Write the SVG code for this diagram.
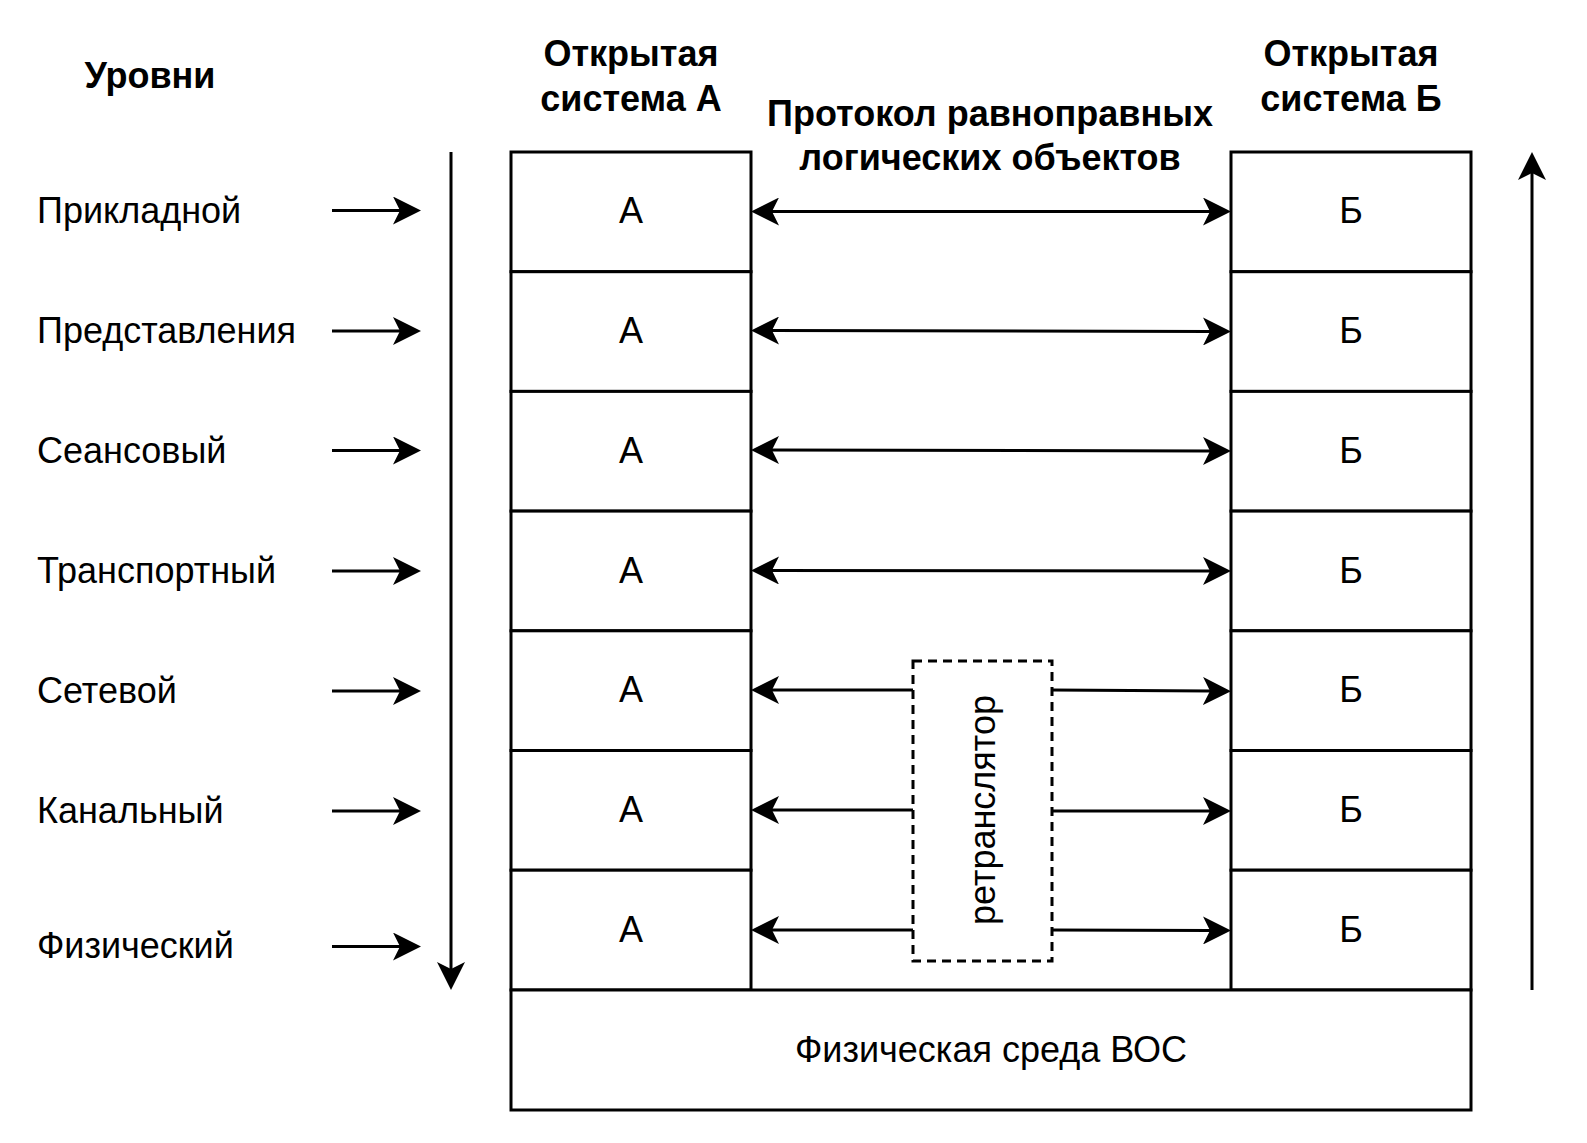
<svg xmlns="http://www.w3.org/2000/svg" width="1587" height="1143" viewBox="0 0 1587 1143">
<style>
.t{font-family:"Liberation Sans",Arial,sans-serif;font-size:36px;fill:#000}
.b{font-family:"Liberation Sans",Arial,sans-serif;font-size:36px;font-weight:bold;fill:#000}
.box{fill:#fff;stroke:#000;stroke-width:3}
.ln{fill:none;stroke:#000;stroke-width:3}
.dash{fill:#fff;stroke:#000;stroke-width:3;stroke-dasharray:9 6}
</style>
<defs>
<marker id="arr" viewBox="0 0 28 28" markerWidth="28" markerHeight="28" refX="7" refY="14" orient="auto-start-reverse" markerUnits="userSpaceOnUse">
<path d="M0,0 L28,14 L0,28 L7,14 Z" fill="#000"/>
</marker>
</defs>
<rect width="1587" height="1143" fill="#fff"/>

<g id="titles">
<text class="b" x="150" y="88" text-anchor="middle">Уровни</text>
<text class="b" x="631" y="66" text-anchor="middle">Открытая</text>
<text class="b" x="631" y="111" text-anchor="middle">система А</text>
<text class="b" x="1351" y="66" text-anchor="middle">Открытая</text>
<text class="b" x="1351" y="111" text-anchor="middle">система Б</text>
<text class="b" x="990" y="126" text-anchor="middle">Протокол равноправных</text>
<text class="b" x="990" y="170" text-anchor="middle">логических объектов</text>
</g>

<g id="levels">
<text class="t" x="37" y="223">Прикладной</text>
<text class="t" x="37" y="343">Представления</text>
<text class="t" x="37" y="463">Сеансовый</text>
<text class="t" x="37" y="583">Транспортный</text>
<text class="t" x="37" y="703">Сетевой</text>
<text class="t" x="37" y="823">Канальный</text>
<text class="t" x="37" y="958">Физический</text>
</g>

<g id="systemA">
<rect class="box" x="511" y="152" width="240" height="119.7"/>
<rect class="box" x="511" y="271.7" width="240" height="119.7"/>
<rect class="box" x="511" y="391.4" width="240" height="119.7"/>
<rect class="box" x="511" y="511.1" width="240" height="119.7"/>
<rect class="box" x="511" y="630.8" width="240" height="119.7"/>
<rect class="box" x="511" y="750.5" width="240" height="119.7"/>
<rect class="box" x="511" y="870.2" width="240" height="119.8"/>
<text class="t" x="631" y="223" text-anchor="middle">А</text>
<text class="t" x="631" y="343" text-anchor="middle">А</text>
<text class="t" x="631" y="463" text-anchor="middle">А</text>
<text class="t" x="631" y="583" text-anchor="middle">А</text>
<text class="t" x="631" y="702" text-anchor="middle">А</text>
<text class="t" x="631" y="822" text-anchor="middle">А</text>
<text class="t" x="631" y="942" text-anchor="middle">А</text>
</g>

<g id="systemB">
<rect class="box" x="1231" y="152" width="240" height="119.7"/>
<rect class="box" x="1231" y="271.7" width="240" height="119.7"/>
<rect class="box" x="1231" y="391.4" width="240" height="119.7"/>
<rect class="box" x="1231" y="511.1" width="240" height="119.7"/>
<rect class="box" x="1231" y="630.8" width="240" height="119.7"/>
<rect class="box" x="1231" y="750.5" width="240" height="119.7"/>
<rect class="box" x="1231" y="870.2" width="240" height="119.8"/>
<text class="t" x="1351" y="223" text-anchor="middle">Б</text>
<text class="t" x="1351" y="343" text-anchor="middle">Б</text>
<text class="t" x="1351" y="463" text-anchor="middle">Б</text>
<text class="t" x="1351" y="583" text-anchor="middle">Б</text>
<text class="t" x="1351" y="702" text-anchor="middle">Б</text>
<text class="t" x="1351" y="822" text-anchor="middle">Б</text>
<text class="t" x="1351" y="942" text-anchor="middle">Б</text>
</g>

<g id="medium">
<rect class="box" x="511" y="990" width="960" height="120"/>
<text class="t" x="991" y="1062" text-anchor="middle">Физическая среда ВОС</text>
</g>

<g id="relay">
<rect class="dash" x="913" y="661" width="139" height="300"/>
<text class="t" transform="translate(995,810) rotate(-90)" text-anchor="middle">ретранслятор</text>
</g>

<g id="connectors">
<line class="ln" x1="332" y1="210.5" x2="400" y2="210.5" marker-end="url(#arr)"/>
<line class="ln" x1="332" y1="331" x2="400" y2="331" marker-end="url(#arr)"/>
<line class="ln" x1="332" y1="450.5" x2="400" y2="450.5" marker-end="url(#arr)"/>
<line class="ln" x1="332" y1="571" x2="400" y2="571" marker-end="url(#arr)"/>
<line class="ln" x1="332" y1="691" x2="400" y2="691" marker-end="url(#arr)"/>
<line class="ln" x1="332" y1="811" x2="400" y2="811" marker-end="url(#arr)"/>
<line class="ln" x1="332" y1="946.5" x2="400" y2="946.5" marker-end="url(#arr)"/>
<line class="ln" x1="451" y1="152" x2="451" y2="969" marker-end="url(#arr)"/>
<line class="ln" x1="1532" y1="990" x2="1532" y2="173" marker-end="url(#arr)"/>
<line class="ln" x1="772" y1="211.5" x2="1210" y2="211.5" marker-start="url(#arr)" marker-end="url(#arr)"/>
<line class="ln" x1="772" y1="330.5" x2="1210" y2="331.5" marker-start="url(#arr)" marker-end="url(#arr)"/>
<line class="ln" x1="772" y1="450" x2="1210" y2="451" marker-start="url(#arr)" marker-end="url(#arr)"/>
<line class="ln" x1="772" y1="570.5" x2="1210" y2="571" marker-start="url(#arr)" marker-end="url(#arr)"/>
<line class="ln" x1="913" y1="690" x2="772" y2="690" marker-end="url(#arr)"/>
<line class="ln" x1="913" y1="810" x2="772" y2="810" marker-end="url(#arr)"/>
<line class="ln" x1="913" y1="930" x2="772" y2="930" marker-end="url(#arr)"/>
<line class="ln" x1="1052" y1="690" x2="1210" y2="691" marker-end="url(#arr)"/>
<line class="ln" x1="1052" y1="811" x2="1210" y2="811" marker-end="url(#arr)"/>
<line class="ln" x1="1052" y1="930" x2="1210" y2="930.5" marker-end="url(#arr)"/>
</g>
</svg>
